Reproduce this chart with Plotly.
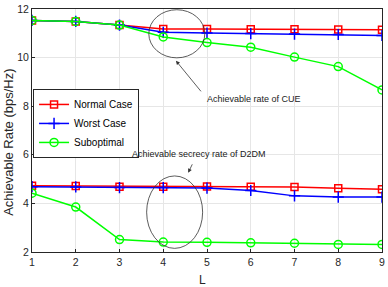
import plotly.graph_objects as go

L = [1, 2, 3, 4, 5, 6, 7, 8, 9]
normal_cue = [11.53, 11.49, 11.34, 11.18, 11.18, 11.17, 11.17, 11.16, 11.15]
worst_cue = [11.53, 11.49, 11.34, 11.04, 11.01, 10.99, 10.97, 10.95, 10.91]
subopt_cue = [11.53, 11.49, 11.34, 10.85, 10.62, 10.43, 10.02, 9.63, 8.67]
normal_d2d = [4.73, 4.72, 4.69, 4.69, 4.70, 4.69, 4.67, 4.62, 4.58]
worst_d2d = [4.69, 4.68, 4.65, 4.65, 4.63, 4.53, 4.31, 4.26, 4.26]
subopt_d2d = [4.42, 3.85, 2.51, 2.41, 2.40, 2.38, 2.36, 2.31, 2.31]
x_ticks = [1, 2, 3, 4, 5, 6, 7, 8, 9]
y_ticks = [2, 4, 6, 8, 10, 12]

RED, BLUE, GREEN = "#FF0000", "#0000FF", "#00FF00"
FONT = "Liberation Sans, Arial, sans-serif"

fig = go.Figure()

def add(y, color, symbol, size, name, show):
    fig.add_trace(go.Scatter(
        x=L, y=y, mode="lines+markers", name=name, showlegend=show,
        line=dict(color=color, width=1.5),
        marker=dict(symbol=symbol, size=size, color=color,
                    line=dict(color=color, width=1.5)),
    ))

add(normal_cue, RED, "square-open", 7, "Normal Case", True)
add(worst_cue, BLUE, "cross-thin-open", 8, "Worst Case", True)
add(subopt_cue, GREEN, "circle-open", 8, "Suboptimal", True)
add(normal_d2d, RED, "square-open", 7, "Normal Case", False)
add(worst_d2d, BLUE, "cross-thin-open", 8, "Worst Case", False)
add(subopt_d2d, GREEN, "circle-open", 8, "Suboptimal", False)

# ellipses
fig.add_shape(type="circle", xref="x", yref="y", x0=3.67, x1=4.95, y0=9.99, y1=11.97,
              line=dict(color="#333333", width=0.8))
fig.add_shape(type="circle", xref="x", yref="y", x0=3.62, x1=4.90, y0=2.15, y1=5.13,
              line=dict(color="#333333", width=0.8))

fig.add_annotation(x=4.29, y=9.87, ax=4.89, ay=8.55, axref="x", ayref="y",
                   showarrow=True, arrowhead=2, arrowsize=1, arrowwidth=0.8,
                   arrowcolor="#333333", text="")
fig.add_annotation(x=4.95, y=8.30, text="Achievable rate of CUE", showarrow=False,
                   xanchor="left", yanchor="middle",
                   font=dict(family=FONT, size=9, color="#222222"))
fig.add_annotation(x=4.57, y=5.26, ax=4.68, ay=5.67, axref="x", ayref="y",
                   showarrow=True, arrowhead=2, arrowsize=1, arrowwidth=0.8,
                   arrowcolor="#333333", text="")
fig.add_annotation(x=4.81, y=6.04, text="Achievable secrecy rate of D2DM", showarrow=False,
                   xanchor="center", yanchor="middle",
                   font=dict(family=FONT, size=9, color="#222222"))

# axis titles
fig.add_annotation(x=0.486, y=-0.115, xref="paper", yref="paper", text="L", showarrow=False,
                   xanchor="center", yanchor="middle",
                   font=dict(family=FONT, size=12, color="#262626"))
fig.add_annotation(x=-0.068, y=0.45, xref="paper", yref="paper", text="Achievable Rate (bps/Hz)",
                   showarrow=False, textangle=-90, xanchor="center", yanchor="middle",
                   font=dict(family=FONT, size=13, color="#262626"))

axis_common = dict(
    showgrid=True, gridcolor="#E6E6E6", gridwidth=1,
    showline=True, linecolor="#262626", linewidth=1, mirror=True,
    ticks="inside", ticklen=3, tickcolor="#262626",
    tickfont=dict(family=FONT, size=10.5, color="#262626"),
    zeroline=False, automargin=False,
)

fig.update_xaxes(range=[1, 9], tickvals=x_ticks, **axis_common)
fig.update_yaxes(range=[2, 12], tickvals=y_ticks, **axis_common)

fig.update_layout(
    width=388, height=287,
    margin=dict(l=32, r=6, t=9, b=35),
    plot_bgcolor="white", paper_bgcolor="white",
    legend=dict(x=0.003, y=0.671, xanchor="left", yanchor="top",
                bgcolor="white", bordercolor="#262626", borderwidth=1,
                font=dict(family=FONT, size=10, color="#000000"),
                itemwidth=30, tracegroupgap=0),
)

fig.write_html("out.html", config={"displayModeBar": False},
               post_script="document.body.style.margin='0px';document.body.style.padding='0px';")
